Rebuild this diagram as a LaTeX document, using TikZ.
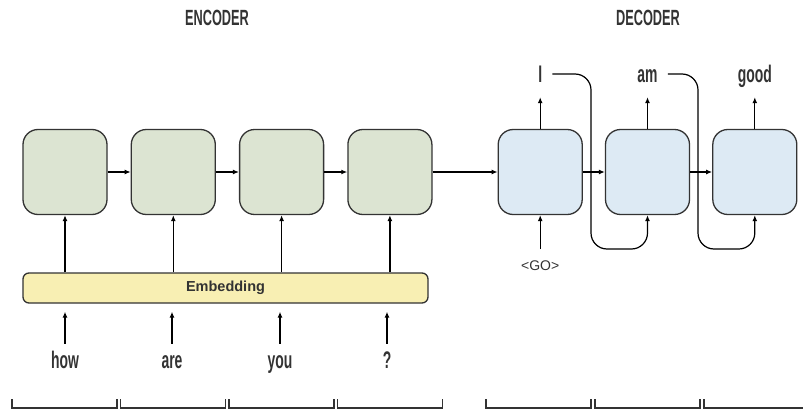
\documentclass[tikz,border=0pt]{standalone}
\usepackage{fontspec}
\setmainfont{Liberation Sans}
\newfontfamily\condfont{Liberation Sans}[FakeStretch=0.58]
\usetikzlibrary{positioning,arrows.meta}
\definecolor{encfill}{HTML}{DCE4D2}
\definecolor{decfill}{HTML}{DDEAF4}
\definecolor{embfill}{HTML}{F8EFB3}
\definecolor{edge}{HTML}{333333}

\begin{document}
\begin{tikzpicture}[x=1pt,y=-1pt,
  >={Latex[length=6pt,width=5pt]},
  cell/.style={draw=edge,line width=1.3pt,rounded corners=15pt,
    minimum width=84pt,minimum height=85pt},
  enc/.style={cell,fill=encfill},
  dec/.style={cell,fill=decfill},
  word/.style={font=\condfont\bfseries\fontsize{24}{24}\selectfont,anchor=base,
    text height=22pt,text depth=6pt,inner sep=2pt,text=edge},
  head/.style={font=\condfont\bfseries\fontsize{22}{22}\selectfont,text=edge},
  flow/.style={->,line width=1.2pt},
  span/.style={line width=1.2pt,draw=edge}]
  \useasboundingbox (0,0) rectangle (803,412);
  \node[head] (enchead) at (217,18) {ENCODER};
  \node[head] (dechead) at (648,18) {DECODER};

  \node[enc] (e1) at (65,172) {};
  \node[enc,right=23pt of e1] (e2) {};
  \node[enc,right=23pt of e2] (e3) {};
  \node[enc,right=23pt of e3] (e4) {};
  \node[dec,right=65pt of e4] (d1) {};
  \node[dec,right=22pt of d1] (d2) {};
  \node[dec,right=22pt of d2] (d3) {};

  \node[draw=edge,line width=1.3pt,fill=embfill,rounded corners=6pt,
    minimum width=405pt,minimum height=30pt,text=edge,
    font=\bfseries\fontsize{14.5}{14.5}\selectfont] (emb) at (225.5,288) {Embedding};

  \node[word] (w1) at (65,368) {how};
  \node[word] (w2) at (172,368) {are};
  \node[word] (w3) at (280,368) {you};
  \node[word] (w4) at (387,368) {?};

  \node[word] (o1) at (d1.north |- 0,82) {I};
  \node[word] (o2) at (d2.north |- 0,82) {am};
  \node[word] (o3) at (d3.north |- 0,82) {good};
  \node[font=\fontsize{14}{14}\selectfont,inner sep=3pt,text=edge,
    below=42pt of d1] (go) {<GO>};

  \coordinate (u1) at (591,249);
  \coordinate (u2) at (698,249);

  \foreach \i/\j in {e1/e2,e2/e3,e3/e4,e4/d1,d1/d2,d2/d3}
    \draw[flow] (\i) -- (\j);
  \foreach \i in {1,...,4} {
    \draw[flow] (e\i |- emb.north) -- (e\i);
    \draw[flow,shorten >=8pt] (w\i.north) -- (w\i |- emb.south);
  }
  \foreach \i in {1,2,3}
    \draw[flow,shorten >=7pt] (d\i.north) -- (d\i |- o\i.south);
  \draw[flow,shorten <=8pt] (go.north) -- (d1.south);
  \draw[flow,rounded corners=16pt,shorten <=8pt] (o1.east) -| (u1) -| (d2.south);
  \draw[flow,rounded corners=16pt,shorten <=8pt] (o2.east) -| (u2) -| (d3.south);

  \foreach \a in {12,120.5,229,337.5,486,595,704}
    \draw[span] (\a,399) |- (\a+105,408) -- (\a+105,399);
\end{tikzpicture}
\end{document}
